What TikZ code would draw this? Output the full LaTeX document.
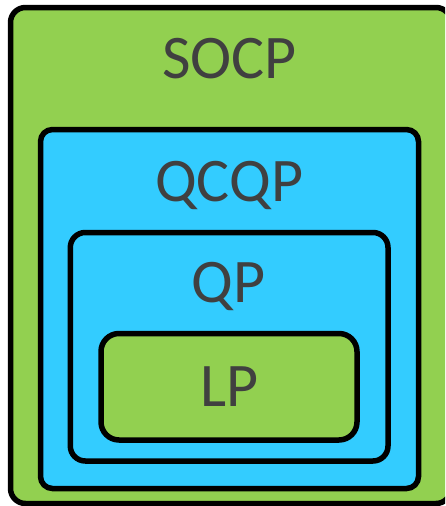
\documentclass[tikz,border=0pt]{standalone}
\usepackage{fontspec}
\setmainfont{Carlito}
\definecolor{setgreen}{HTML}{92D050}
\definecolor{setblue}{HTML}{33CCFF}
\definecolor{labelgray}{HTML}{404040}
\tikzset{
  setbox/.style={draw=black, line width=5.5pt, inner sep=0pt, outer sep=0pt},
  setlabel/.style={anchor=base, inner sep=0pt, text=labelgray,
    font=\fontsize{62}{74}\selectfont}
}
\begin{document}
\begin{tikzpicture}[x=1pt, y=-1pt]
  \clip (0,0) rectangle (445,506);
  % nested problem classes, drawn from the outside in
  \node[setbox, fill=setgreen, rounded corners=15pt,
        minimum width=440.5pt, minimum height=496pt] (socp) at (230.75,255.5) {};
  \node[setbox, fill=setblue, rounded corners=12pt,
        minimum width=378pt, minimum height=359pt] (qcqp) at (229.5,309) {};
  \node[setbox, fill=setblue, rounded corners=15pt,
        minimum width=317.7pt, minimum height=228.5pt] (qp) at (229.15,346.75) {};
  \node[setbox, fill=setgreen, rounded corners=18pt,
        minimum width=256pt, minimum height=106.5pt] (lp) at (229,386.75) {};
  % class names
  \node[setlabel] (socplabel) at (229.5,78) {SOCP};
  \node[setlabel] (qcqplabel) at (229,201.7) {QCQP};
  \node[setlabel] (qplabel) at (228.5,302.3) {QP};
  \node[setlabel] (lplabel) at (230,406.7) {LP};
\end{tikzpicture}
\end{document}
